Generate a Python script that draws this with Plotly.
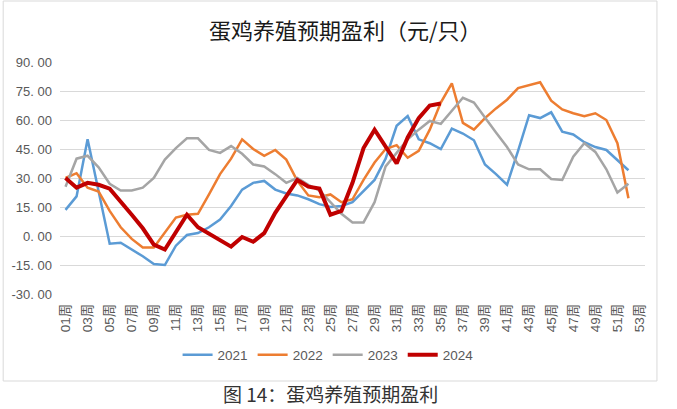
import plotly.graph_objects as go

week_labels = [f"{i:02d}周" for i in range(1, 54)]
tick_weeks = list(range(1, 54, 2))

y2021 = [13.5, 20.5, 50, 23, -4, -3.5, -7, -10.5, -14.5, -15,
         -5, 0.5, 1.5, 4.5, 8.5, 15.5, 24, 27.5, 28.5, 24,
         22, 21, 19, 16.5, 15, 15.5, 17.5, 23, 29, 40,
         57, 62, 50, 48, 45, 55.5, 53, 49.5, 37, 32,
         26.5, 44, 62.5, 61, 64, 54, 52.5, 48.5, 46, 44.5, 39.5, 34]
y2022 = [30, 32.5, 25, 23, 13, 4.5, -1.5, -6, -6, 1.5,
         9.5, 11, 11.5, 21.5, 32, 40, 50, 45, 41.5, 44.5,
         39.5, 28.5, 21, 20, 21.5, 17.5, 19, 29, 38, 45,
         47, 40.5, 44, 55, 69, 79, 58.5, 55, 61, 66,
         70.5, 76.5, 78, 79.5, 70, 65.5, 63.5, 62, 63.5, 60, 48, 19.5]
y2023 = [25.5, 40, 41.5, 35.5, 27, 23.5, 23.5, 25, 30, 39.5,
         45.5, 50.5, 50.5, 44.5, 43, 46.5, 42.5, 37, 36, 32,
         27.5, 30, 26.5, 23.5, 17.5, 11.5, 7, 7, 17.5, 36,
         43, 50, 55, 59.5, 58, 64.5, 71.5, 69, 61, 53.5,
         46, 37, 34.5, 34.5, 29.5, 29, 41, 48, 43.5, 34.5, 22.5, 27]
y2024 = [30, 25, 27.5, 26.5, 24.5, 18, 11, 4, -4.5, -7,
         2, 11, 4.5, 1, -2, -5.5, -0.5, -3, 1.5, 12,
         20.5, 29, 25.5, 24.5, 11, 13, 27.5, 45.5, 55, 46.5,
         37.5, 51, 61, 67.5, 68.5]

y_ticks = [-30, -15, 0, 15, 30, 45, 60, 75, 90]

series = [
    ("2021", y2021, "#5B9BD5", 2.5),
    ("2022", y2022, "#ED7D31", 2.5),
    ("2023", y2023, "#A5A5A5", 2.5),
    ("2024", y2024, "#C00000", 4),
]

fig = go.Figure()
for name, vals, color, w in series:
    fig.add_trace(go.Scatter(
        x=list(range(1, len(vals) + 1)), y=vals, name=name, mode="lines",
        line=dict(color=color, width=w)))

L, R, T, B = 58, 32, 62, 115
W, H = 677, 409
pw, ph = W - L - R, H - T - B

def px(p):
    return (p - L) / pw

def py(q):
    return (H - B - q) / ph

fig.update_layout(
    width=W, height=H,
    margin=dict(l=L, r=R, t=T, b=B),
    paper_bgcolor="white", plot_bgcolor="white",
    font=dict(family="Liberation Sans, Noto Sans CJK SC", color="#595959"),
    showlegend=True,
    legend=dict(orientation="h", x=px(327), xanchor="center", y=py(355), yanchor="middle",
                font=dict(size=13.5, color="#595959"), itemwidth=30, tracegroupgap=0),
    xaxis=dict(range=[0.5, 53.5], tickmode="array", tickvals=tick_weeks,
               ticktext=[week_labels[i - 1] for i in tick_weeks], tickangle=-90,
               showgrid=False, zeroline=False, showline=False, ticks="",
               ticklabelstandoff=6,
               tickfont=dict(size=13.5, color="#595959")),
    yaxis=dict(range=[-30, 90], tickmode="array", tickvals=y_ticks,
               ticktext=[f"{v:.2f}".replace(".", ". ") for v in y_ticks],
               showgrid=True, gridcolor="#D9D9D9", gridwidth=1, zeroline=False,
               showline=False, ticks="", ticklabelstandoff=7,
               tickfont=dict(size=13, color="#595959")),
    annotations=[
        dict(text="蛋鸡养殖预期盈利（元/只）", x=px(344), y=py(29), xref="paper", yref="paper",
             showarrow=False, xanchor="center", yanchor="middle",
             font=dict(family="Noto Sans CJK SC", size=22, color="#1a1a1a")),
        dict(text="图 14：蛋鸡养殖预期盈利", x=px(329), y=py(393), xref="paper", yref="paper",
             showarrow=False, xanchor="center", yanchor="middle",
             font=dict(family="Noto Sans CJK SC", size=19, color="#333333")),
    ],
    shapes=[
        dict(type="rect", xref="paper", yref="paper", x0=px(1), x1=px(657), y0=py(381), y1=py(1),
             line=dict(color="#D9D9D9", width=1), fillcolor="rgba(0,0,0,0)", layer="below"),
    ],
)

fig.write_html("out.html")
